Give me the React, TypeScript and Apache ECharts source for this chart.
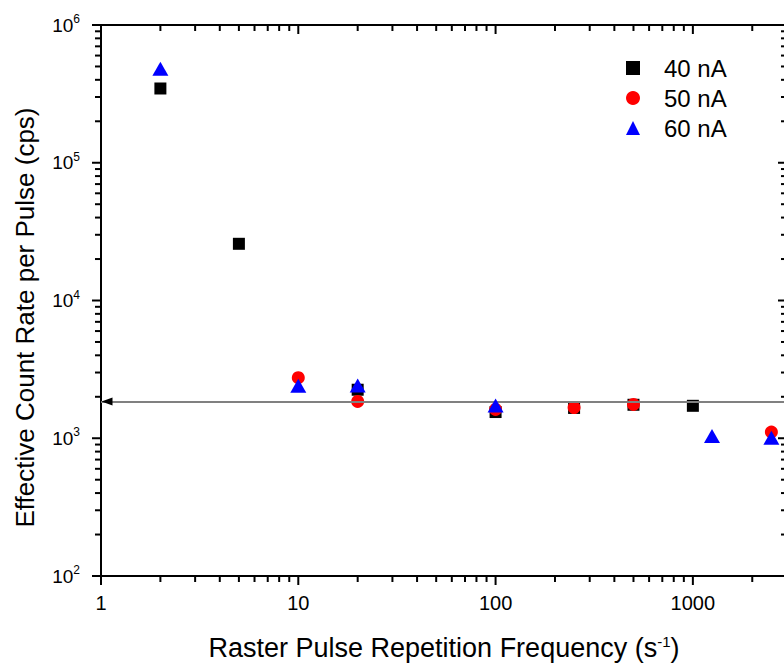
import React, { useEffect, useRef } from 'react';
import * as echarts from 'echarts';

// ---- data ----
const seriesNames = ['40 nA', '50 nA', '60 nA'];
const freq40 = [2, 5, 20, 100, 250, 500, 1000];
const rate40 = [346000, 25800, 2250, 1550, 1660, 1750, 1720];
const freq50 = [10, 20, 100, 250, 500, 2500];
const rate50 = [2750, 1850, 1620, 1670, 1760, 1110];
const freq60 = [2, 10, 20, 100, 1250, 2500];
const rate60 = [481000, 2410, 2420, 1730, 1040, 1010];
const referenceRate = 1850;

// ---- axis ticks ----
const xMajorTicks = [1, 10, 100, 1000];
const xMinorTicks = [
  2, 3, 4, 5, 6, 7, 8, 9,
  20, 30, 40, 50, 60, 70, 80, 90,
  200, 300, 400, 500, 600, 700, 800, 900,
  2000, 3000,
];
const yMajorTicks = [100, 1000, 10000, 100000, 1000000];
const yMinorTicks = [
  200, 300, 400, 500, 600, 700, 800, 900,
  2000, 3000, 4000, 5000, 6000, 7000, 8000, 9000,
  20000, 30000, 40000, 50000, 60000, 70000, 80000, 90000,
  200000, 300000, 400000, 500000, 600000, 700000, 800000, 900000,
];

const X_MIN = 1;
const X_MAX = 3000;
const Y_MIN = 100;
const Y_MAX = 1000000;
const FONT = '"Liberation Sans", Arial, Helvetica, sans-serif';
const AXIS_COLOR = '#000';
const MAJOR_LEN = 9;
const MINOR_LEN = 6;
const TICK_W = 2;

function App() {
  const ref = useRef<HTMLDivElement>(null);

  useEffect(() => {
    if (!ref.current) return;
    const chart = echarts.init(ref.current, undefined, { renderer: 'svg' });

    // tick marks: thin rect markers placed at axis-scale coordinates
    const tickHolder = (name: string, coords: number[][], size: number[], offset: number[]) => ({
      name,
      type: 'scatter',
      data: [],
      z: 6,
      markPoint: {
        silent: true,
        symbol: 'rect',
        symbolSize: size,
        symbolOffset: offset,
        itemStyle: { color: AXIS_COLOR, opacity: 1 },
        label: { show: false },
        data: coords.map((c) => ({ coord: c })),
      },
    });

    const axisLineStyle = { color: AXIS_COLOR, width: 2 };

    const option: any = {
      animation: false,
      backgroundColor: '#fff',
      textStyle: { fontFamily: FONT },
      grid: { left: 101, top: 25, right: 13, bottom: 88, containLabel: false },
      legend: {
        data: seriesNames,
        orient: 'vertical',
        left: 621,
        top: 51,
        itemWidth: 14,
        itemHeight: 14,
        itemGap: 6,
        textStyle: { fontSize: 24, color: '#000', fontFamily: FONT, padding: [0, 0, 0, 19], lineHeight: 24 },
      },
      xAxis: [
        {
          type: 'log',
          logBase: 10,
          min: X_MIN,
          max: X_MAX,
          position: 'bottom',
          splitLine: { show: false },
          axisLine: { show: true, onZero: false, lineStyle: axisLineStyle },
          axisTick: { show: false },
          axisLabel: {
            show: true,
            customValues: xMajorTicks,
            fontSize: 20,
            color: '#000',
            fontFamily: FONT,
            margin: 17,
            formatter: (v: number) => String(v),
          },
          name: '{t|Raster Pulse Repetition Frequency (s}{s|-1}{t|)}',
          nameLocation: 'middle',
          nameGap: 58,
          nameTextStyle: {
            rich: {
              t: { fontSize: 27, color: '#000', fontFamily: FONT },
              s: { fontSize: 15, color: '#000', fontFamily: FONT, verticalAlign: 'top' },
            },
          },
        },
        {
          type: 'log',
          logBase: 10,
          min: X_MIN,
          max: X_MAX,
          position: 'top',
          splitLine: { show: false },
          axisLine: { show: true, onZero: false, lineStyle: axisLineStyle },
          axisTick: { show: false },
          axisLabel: { show: false },
        },
      ],
      yAxis: [
        {
          type: 'log',
          logBase: 10,
          min: Y_MIN,
          max: Y_MAX,
          position: 'left',
          splitLine: { show: false },
          axisLine: { show: true, onZero: false, lineStyle: axisLineStyle },
          axisTick: { show: false },
          axisLabel: {
            show: true,
            customValues: yMajorTicks,
            margin: 21,
            formatter: (v: number) => `{b|10}{s|${Math.round(Math.log10(v))}}`,
            rich: {
              b: { fontSize: 19, color: '#000', fontFamily: FONT, lineHeight: 24 },
              s: { fontSize: 12, color: '#000', fontFamily: FONT, verticalAlign: 'top', lineHeight: 24 },
            },
          },
          name: 'Effective Count Rate per Pulse (cps)',
          nameLocation: 'middle',
          nameRotate: 90,
          nameGap: 63,
          nameTextStyle: { fontSize: 26, color: '#000', fontFamily: FONT, padding: [0, 34, 0, 0] },
        },
        {
          type: 'log',
          logBase: 10,
          min: Y_MIN,
          max: Y_MAX,
          position: 'right',
          splitLine: { show: false },
          axisLine: { show: true, onZero: false, lineStyle: axisLineStyle },
          axisTick: { show: false },
          axisLabel: { show: false },
        },
      ],
      series: [
        {
          name: 'reference',
          type: 'scatter',
          data: [],
          z: 1,
          markLine: {
            silent: true,
            symbol: ['none', 'none'],
            label: { show: false },
            lineStyle: { color: '#808080', width: 2, type: 'solid', opacity: 1 },
            data: [{ yAxis: referenceRate }],
          },
          markPoint: {
            silent: true,
            symbol: 'triangle',
            symbolSize: [8, 11],
            symbolRotate: 90,
            symbolOffset: [6, 0],
            itemStyle: { color: '#000', opacity: 1 },
            label: { show: false },
            data: [{ coord: [X_MIN, referenceRate] }],
          },
        },
        {
          name: seriesNames[0],
          type: 'scatter',
          symbol: 'rect',
          symbolSize: 12,
          itemStyle: { color: '#000000', opacity: 1 },
          z: 3,
          data: freq40.map((f, i) => [f, rate40[i]]),
        },
        {
          name: seriesNames[1],
          type: 'scatter',
          symbol: 'circle',
          symbolSize: 13,
          itemStyle: { color: '#ff0000', opacity: 1 },
          z: 4,
          data: freq50.map((f, i) => [f, rate50[i]]),
        },
        {
          name: seriesNames[2],
          type: 'scatter',
          symbol: 'triangle',
          symbolSize: [16, 14],
          itemStyle: { color: '#0000ff', opacity: 1 },
          z: 5,
          data: freq60.map((f, i) => [f, rate60[i]]),
        },
        // bottom (outward) and top (inward) x ticks
        tickHolder('tick-xb-major', xMajorTicks.map((v) => [v, Y_MIN]), [TICK_W, MAJOR_LEN], [0, MAJOR_LEN / 2]),
        tickHolder('tick-xb-minor', xMinorTicks.map((v) => [v, Y_MIN]), [TICK_W, MINOR_LEN], [0, MINOR_LEN / 2]),
        tickHolder('tick-xt-major', xMajorTicks.map((v) => [v, Y_MAX]), [TICK_W, MAJOR_LEN], [0, MAJOR_LEN / 2]),
        tickHolder('tick-xt-minor', xMinorTicks.map((v) => [v, Y_MAX]), [TICK_W, MINOR_LEN], [0, MINOR_LEN / 2]),
        // left (outward) and right (inward) y ticks
        tickHolder('tick-yl-major', yMajorTicks.map((v) => [X_MIN, v]), [MAJOR_LEN, TICK_W], [-MAJOR_LEN / 2, 0]),
        tickHolder('tick-yl-minor', yMinorTicks.map((v) => [X_MIN, v]), [MINOR_LEN, TICK_W], [-MINOR_LEN / 2, 0]),
        tickHolder('tick-yr-major', yMajorTicks.map((v) => [X_MAX, v]), [MAJOR_LEN, TICK_W], [-MAJOR_LEN / 2, 0]),
        tickHolder('tick-yr-minor', yMinorTicks.map((v) => [X_MAX, v]), [MINOR_LEN, TICK_W], [-MINOR_LEN / 2, 0]),
      ],
    };

    chart.setOption(option);
    return () => chart.dispose();
  }, []);

  return (
    <div
      style={{
        position: 'fixed',
        left: 0,
        top: 0,
        width: 784,
        height: 666,
        overflow: 'hidden',
        background: '#fff',
      }}
    >
      <div ref={ref} style={{ width: 800, height: 666 }} />
    </div>
  );
}

export default App;
